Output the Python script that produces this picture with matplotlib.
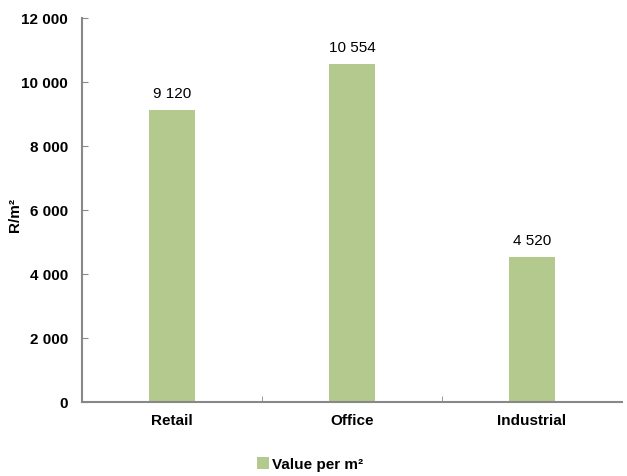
import matplotlib
matplotlib.use("Agg")
import matplotlib.pyplot as plt
from matplotlib.ticker import FuncFormatter
from matplotlib.patches import Patch

categories = ["Retail", "Office", "Industrial"]
values = [9120, 10554, 4520]
series_name = "Value per m²"

plt.rcParams['font.family'] = ['Liberation Sans', 'DejaVu Sans']

fig = plt.figure(figsize=(6.27, 4.77), dpi=100)
ax = fig.add_axes([82/627, 1 - 403/477, 540/627, (403 - 19)/477])

color = "#B3C98D"
x = list(range(len(categories)))
bars = ax.bar(x, values, width=0.255, color=color, zorder=2)

def fmt(v, pos=None):
    s = f"{int(round(v)):,}".replace(",", " ")
    return s

FS = 11
for xi, v in zip(x, values):
    ax.text(xi, v + 320, fmt(v), ha="center", va="bottom", fontsize=FS, color="#000000")

ax.set_xlim(-0.5, 2.5)
ax.set_ylim(0, 12000)
ax.set_yticks(range(0, 12001, 2000))
ax.yaxis.set_major_formatter(FuncFormatter(fmt))
ax.set_xticks(x)
ax.set_xticklabels(categories, fontweight="bold", fontsize=FS)
ax.set_xticks([0.5, 1.5], minor=True)
ax.tick_params(axis="x", which="major", length=0, pad=8)
ax.tick_params(axis="x", which="minor", direction="in", length=4, color="#888888")
ax.tick_params(axis="y", direction="in", length=4, color="#888888", pad=10)
for lab in ax.get_yticklabels():
    lab.set_fontweight("bold")
    lab.set_fontsize(FS)

for s in ["top", "right"]:
    ax.spines[s].set_visible(False)
for s in ["left", "bottom"]:
    ax.spines[s].set_color("#888888")
    ax.spines[s].set_linewidth(1.5)

fig.text(15/627, 1 - 215/477, "R/m²", rotation=90, ha="center", va="center",
         fontweight="bold", fontsize=FS)

handle = Patch(facecolor=color, edgecolor="none")
fig.legend([handle], [series_name], loc="center", bbox_to_anchor=(310/627, 1 - 465/477),
           frameon=False, handlelength=0.8, handleheight=0.8, handletextpad=0.2,
           prop={"weight": "bold", "size": FS})

fig.savefig("out.png", dpi=100)
